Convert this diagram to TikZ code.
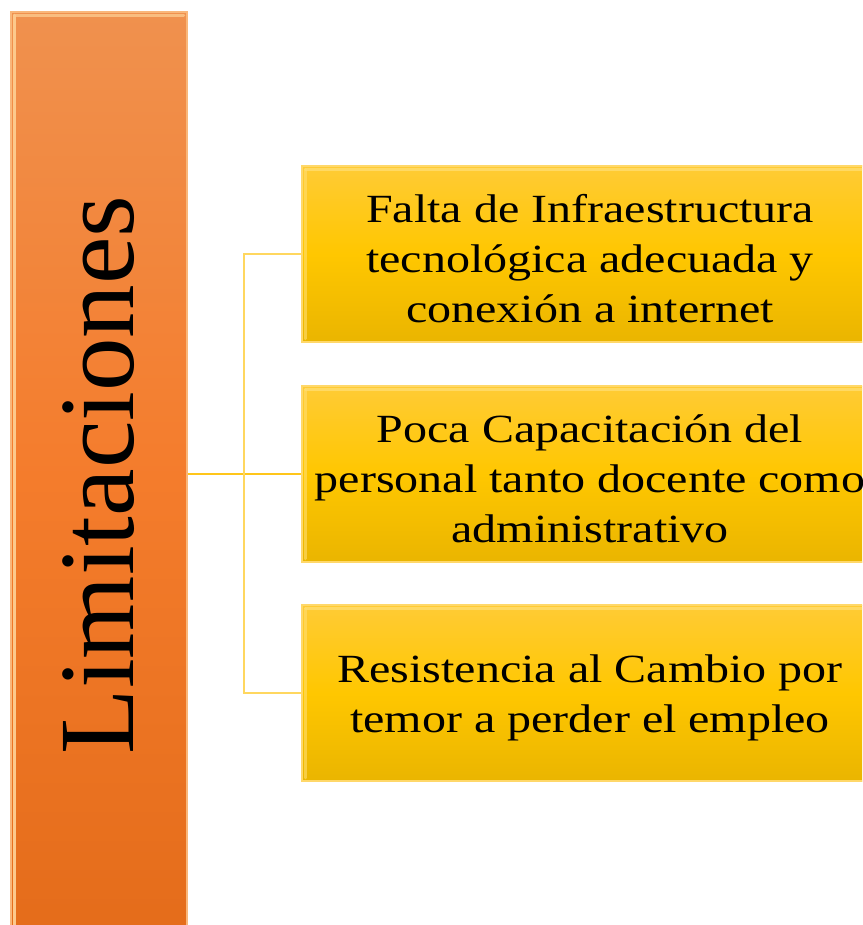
\documentclass[tikz,border=0pt]{standalone}
\usepackage{fontspec}
\setmainfont{Liberation Serif}
\newfontfamily\boxfont[FakeStretch=1.2]{Liberation Serif}
\definecolor{orTop}{HTML}{F0914E}
\definecolor{orMid}{HTML}{F47C2C}
\definecolor{orBot}{HTML}{E46C1A}
\definecolor{orEdge}{HTML}{F9B77A}
\definecolor{orHi}{HTML}{FCC98C}
\definecolor{yeTop}{HTML}{FFCB35}
\definecolor{yeMid}{HTML}{FFC700}
\definecolor{yeBot}{HTML}{EAB500}
\definecolor{yeEdge}{HTML}{FFD86A}
\definecolor{yeHi}{HTML}{FFDD70}
\definecolor{link}{HTML}{FFC61A}
\begin{document}
\begin{tikzpicture}[x=1pt,y=-1pt,
  orbox/.style={rectangle, minimum width=176pt, minimum height=930pt, inner sep=0pt,
    top color=orTop, bottom color=orBot, middle color=orMid, draw=orEdge, line width=1.5pt},
  yebox/.style={rectangle, minimum width=576pt, minimum height=176pt, inner sep=0pt,
    top color=yeTop, bottom color=yeBot, middle color=yeMid, draw=yeEdge, line width=1.5pt},
  boxtext/.style={align=center, inner sep=0pt, font=\boxfont\fontsize{40}{50}\selectfont},
  connector/.style={draw=link, line width=2.5pt},
  hilite/.style={line width=3pt, line cap=round}
]
\useasboundingbox (0,0) rectangle (862,925);
\clip (0,0) rectangle (862,925);
\node[orbox] (lim) at (99,477) {};
\draw[hilite, draw=orHi] ([shift={(4,4)}]lim.north west) -- ([shift={(4,0)}]lim.south west);
\draw[hilite, draw=orHi, opacity=0.8] ([shift={(4,4)}]lim.north west) -- ([shift={(-4,4)}]lim.north east);
\node[rotate=90, font=\fontsize{107}{120}\selectfont, inner sep=0pt] (limtext) at (99,475) {Limitaciones};
\foreach \n/\y/\t in {b1/254/{Falta de Infraestructura\\tecnológica adecuada y\\conexión a internet},
                      b2/474/{Poca Capacitación del\\personal tanto docente como\\administrativo},
                      b3/693/{Resistencia al Cambio por\\temor a perder el empleo}}{
  \node[yebox] (\n) at (590,\y) {};
  \draw[hilite, draw=yeHi, opacity=0.8] ([shift={(4,4)}]\n.north west) -- ([shift={(-4,4)}]\n.north east);
  \draw[hilite, draw=yeHi, opacity=0.6] ([shift={(4,4)}]\n.north west) -- ([shift={(4,-4)}]\n.south west);
  \node[boxtext] (\n t) at ([yshift=-5pt]\n.center) {\t};
}
\coordinate (j) at (244,0);
\draw[connector] (lim.east |- b2.west) -- (b2.west);
\draw[connector, draw=link!70] (b1.west) -- (b1.west -| j) -- (b3.west -| j) -- (b3.west);
\end{tikzpicture}
\end{document}
